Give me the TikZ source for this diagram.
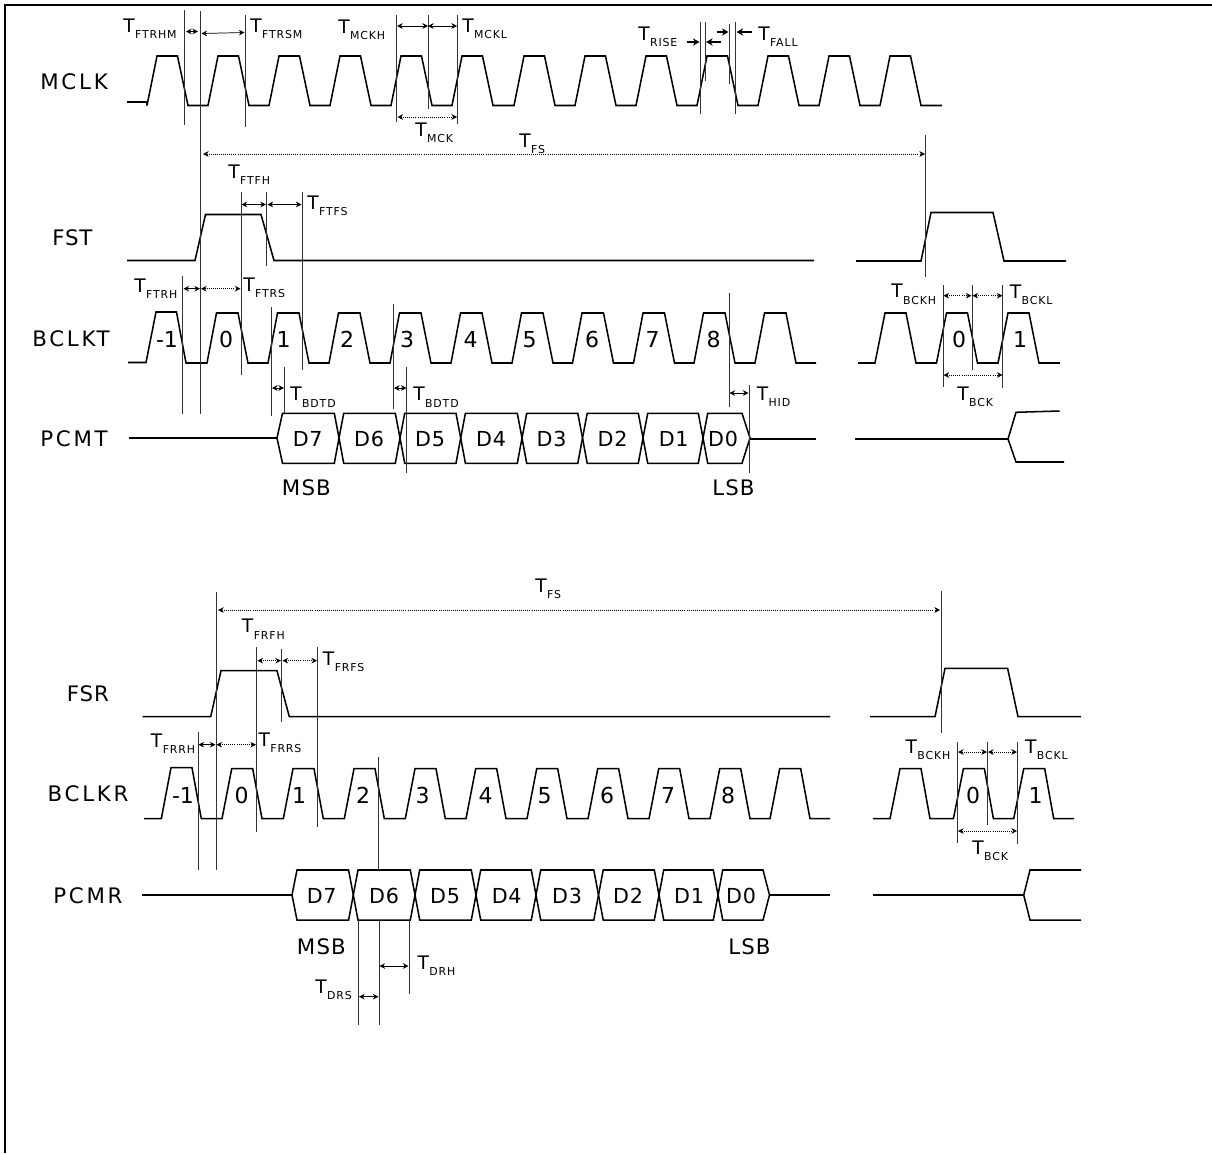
\documentclass[tikz,border=0pt]{standalone}
\usepackage{fontspec}
\usetikzlibrary{arrows.meta}
\newfontfamily\lbf[LetterSpace=13]{DejaVu Sans}
\newfontfamily\lbn[LetterSpace=4]{DejaVu Sans}
\newfontfamily\dgf{DejaVu Sans}
\newfontfamily\tbf{DejaVu Sans}
\newfontfamily\sbf[LetterSpace=8]{DejaVu Sans}
\newcommand\tsub[1]{{\tbf\fontsize{14}{14}\selectfont T}\kern0.3pt\raisebox{-4.8pt}{\sbf\fontsize{8.2}{9}\selectfont #1}}
\tikzset{
  wave/.style={line width=1.15pt,line join=miter},
  guide/.style={line width=0.75pt,black!80},
  dimen/.style={line width=0.55pt,{Stealth[length=4.2pt,width=4.2pt]}-{Stealth[length=4.2pt,width=4.2pt]}},
  dimendot/.style={dimen,densely dotted},
  oneway/.style={line width=1pt,-{Stealth[length=5pt,width=5.5pt]}},
  siglabel/.style={anchor=base west,inner sep=0pt,font=\lbf\fontsize{16}{17}\selectfont},
  narrowlabel/.style={anchor=base west,inner sep=0pt,font=\lbn\fontsize{16}{17}\selectfont},
  buslabel/.style={anchor=base,inner sep=0pt,font=\lbn\fontsize{15.5}{16}\selectfont},
  digit/.style={anchor=base,inner sep=0pt,font=\dgf\fontsize{16.5}{17}\selectfont},
  tlabel/.style={anchor=base west,inner sep=0pt},
}
% one hexagon of a data bus: left tip, right tip, left/right tip depths, mid, top, bottom
\newcommand\hexcell[7]{\draw[wave] (#1,#5) -- (#1+#3,#6) -- (#2-#4,#6) -- (#2,#5) -- (#2-#4,#7) -- (#1+#3,#7) -- cycle;}
\begin{document}
\begin{tikzpicture}[x=0.75pt,y=-0.75pt]
\useasboundingbox (0,0) rectangle (1212,1153);
% frame
\draw[line width=1.5pt] (5,1153) -- (5,5) -- (1212,5);

% ---------- transmit: waveforms
\draw[wave] (127,102) -- (147,102) -- (147,105.5) foreach \s in {147,208,269,330,391,452,514,575,636,697,758,819,880} { -- (\s,105.5) -- (\s+10,56) -- (\s+30.5,56) -- (\s+41,105.5) } -- (942,105.5);
\draw[wave] (127,260.5) -- (195,260.5) -- (205.5,214.5) -- (261,214.5) -- (274,260.5) -- (814,260.5);
\draw[wave] (856,261) -- (921,261) -- (931,212.5) -- (993,212.5) -- (1004,261) -- (1066,261);
\draw[wave] (128,362.5) -- (146,362.5) -- (156,312) -- (176.5,312) -- (186,363) foreach \s in {207,268,329,390,451,512,572.5,633.5,694,755} { -- (\s,363) -- (\s+9.5,313) -- (\s+31,313) -- (\s+41,363) } -- (816,363);
\draw[wave] (858,363) foreach \s in {875,936.5,998} { -- (\s,363) -- (\s+10,313) -- (\s+31,313) -- (\s+41,363) } -- (1060,363);
\draw[wave] (128.5,438) -- (277,438);
\foreach \a/\b/\l/\r in {277/339/5.5/4.7,339/400/4.7/4.7,400/460.7/4.7/4.7,460.7/522/4.7/4.7,522/582.5/4.7/4.7,582.5/643/4.7/4.7,643/703/4.7/4.7,703/750/4.7/8}
  {\hexcell{\a}{\b}{\l}{\r}{438}{413.3}{463.3}}
\draw[wave] (750,439) -- (816,439);
\draw[wave] (1059.5,411) -- (1016,412.3) -- (1008,439) -- (1016,462) -- (1064,462);
\draw[wave] (855,439) -- (1008,439);

% ---------- transmit: guides
\foreach \x/\a/\b in {184/10/125,200.5/11/414,245/15/127,396.5/15/122,428/15/109,457.5/15/124,
  700/22/114,705/22/81,729/24/84,735.7/22/114,925.5/135/277,
  241/192/375,266.7/192/266,302/192/370,182.7/276/414,271.7/307/416,284.3/367/413,
  393.7/304/409,406.7/367/472.7,729/293/406.7,749/385/472.7,943/285/387,972/285/370,1002.7/285/388}
  {\draw[guide] (\x,\a) -- (\x,\b);}
\draw[dimen] (186,31.5) -- (198,31.5);
\draw[dimen] (201.5,33.5) -- (244.5,32.5);
\draw[dimen] (397,26) -- (428,26);
\draw[dimen] (428,26) -- (457,26);
\draw[dimendot] (397.5,117) -- (457,117);
\draw[dimendot] (203,154) -- (925,154);
\draw[dimen] (241.5,204.5) -- (266,204.5);
\draw[dimen] (267.5,204.5) -- (301.5,204.5);
\draw[dimen] (183.5,288.7) -- (200,288.7);
\draw[dimendot] (201,288.7) -- (240.5,288.7);
\draw[dimen] (272,388) -- (284,388);
\draw[dimen] (394,388) -- (406.5,388);
\draw[dimen] (729.5,393) -- (748.5,393);
\draw[dimendot] (943.5,295.7) -- (971.5,295.7);
\draw[dimendot] (972.5,295.7) -- (1002.5,295.7);
\draw[dimendot] (943.5,375) -- (1002.5,375);
\draw[oneway] (686.7,42) -- (699.5,42);
\draw[oneway] (720.7,42) -- (706,42);
\draw[oneway] (717,32) -- (728.5,32);
\draw[oneway] (751.7,32) -- (736.5,32);

% ---------- transmit: text
\node[siglabel] (lmclk) at (40,89) {MCLK};
\node[narrowlabel] (lfst) at (52,245.6) {FST};
\node[siglabel] (lbclkt) at (32,346) {BCLKT};
\node[siglabel] (lpcmt) at (40,446.7) {PCMT};
\node[narrowlabel] (lmsbt) at (281.7,495) {M\kern1pt SB};
\node[narrowlabel] (llsbt) at (712,495) {L\kern1pt SB};
\foreach \x/\t/\n in {167/-1/a,226/0/b,283.5/1/c,347/2/d,407/3/e,470.5/4/f,529.5/5/g,592/6/h,652.5/7/i,713.5/8/j,959/0/k,1020/1/l}
  {\node[digit] (dt\n) at (\x,347.5) {\t};}
\foreach \x/\t in {307.7/D7,369/D6,430/D5,491/D4,551.5/D3,612.6/D2,673.7/D1,723/D0}
  {\node[buslabel] (bt\t) at (\x,446.5) {\t};}
\node[tlabel] (t1) at (123,32) {\tsub{FTRHM}};
\node[tlabel] (t2) at (250,32) {\tsub{FTRSM}};
\node[tlabel] (t3) at (338,33) {\tsub{MCKH}};
\node[tlabel] (t4) at (462,32) {\tsub{MCKL}};
\node[tlabel] (t5) at (415,136) {\tsub{MCK}};
\node[tlabel] (t6) at (228,178) {\tsub{FTFH}};
\node[tlabel] (t7) at (307,209) {\tsub{FTFS}};
\node[tlabel] (t8) at (134,292) {\tsub{FTRH}};
\node[tlabel] (t9) at (243,291) {\tsub{FTRS}};
\node[tlabel] (t10) at (290,400.7) {\tsub{BDTD}};
\node[tlabel] (t11) at (413,400.7) {\tsub{BDTD}};
\node[tlabel] (t12) at (756.5,400) {\tsub{HID}};
\node[tlabel] (t13) at (891,297.7) {\tsub{BCKH}};
\node[tlabel] (t14) at (1009.5,298) {\tsub{BCKL}};
\node[tlabel] (t15) at (957,400) {\tsub{BCK}};
\node[tlabel] (t16) at (638,40) {\tsub{RISE}};
\node[tlabel] (t17) at (758,40) {\tsub{FALL}};
\node[tlabel] (t18) at (519,147) {\tsub{FS}};

% ---------- receive: waveforms
\draw[wave] (142.7,716.7) -- (210.7,716.7) -- (221,670.7) -- (277,670.7) -- (289.3,716.7) -- (830,716.7);
\draw[wave] (870,716.7) -- (935,716.7) -- (945,668.3) -- (1007.6,668.3) -- (1018,716.7) -- (1081,716.7);
\draw[wave] (144,818.7) -- (161.3,818.7) -- (171,767.7) -- (192,767.7) -- (201.3,818.7) foreach \s in {222,283.3,344.3,405.3,466,527,588,649,710,770} { -- (\s,818.7) -- (\s+9.7,768.7) -- (\s+30.7,768.7) -- (\s+40,818.7) } -- (830,818.7);
\draw[wave] (873,818.7) foreach \s in {890,953.4,1013.7} { -- (\s,818.7) -- (\s+10,768.7) -- (\s+31,768.7) -- (\s+40,818.7) } -- (1074,818.7);
\draw[wave] (142,895) -- (292,895);
\foreach \a/\b/\l/\r in {292/353.3/5/4.7,353.3/415/4.7/4.7,415/476/4.7/4.7,476/536/4.7/4.7,536/598.5/4.7/4.7,598.5/659/4.7/4.7,659/718/4.7/4.7,718/769.5/4.7/6.5}
  {\hexcell{\a}{\b}{\l}{\r}{895}{870}{920}}
\draw[wave] (769.5,895) -- (830,895);
\draw[wave] (873,895) -- (1023.7,895);
\draw[wave] (1081,870) -- (1030,870) -- (1023.7,895) -- (1030,920) -- (1081,920);

% ---------- receive: guides
\foreach \x/\a/\b in {216/592/870,941/591/733,256.7/647/831.7,281.7/649/721.7,317.3/647/826.7,198/731.7/870,
  378.7/757.3/870,358.3/920/1025,379/920/1025,409/920/994,957/741.7/843,987.4/741.7/825,1017.6/741.7/844}
  {\draw[guide] (\x,\a) -- (\x,\b);}
\draw[dimendot] (218,610) -- (940,610);
\draw[dimendot] (257.5,660.7) -- (281,660.7);
\draw[dimendot] (282.5,660.7) -- (317,660.7);
\draw[dimen] (198.5,744.7) -- (215.5,744.7);
\draw[dimendot] (216.5,744.7) -- (256,744.7);
\draw[dimendot] (958,752) -- (987,752);
\draw[dimendot] (988,752) -- (1017,752);
\draw[dimendot] (958,831) -- (1017,831);
\draw[dimen] (379.5,966) -- (408.5,966);
\draw[dimen] (359,996.7) -- (378.5,996.7);

% ---------- receive: text
\node[narrowlabel] (lfsr) at (66.7,701.7) {FSR};
\node[siglabel] (lbclkr) at (47.3,801.7) {BCLKR};
\node[siglabel] (lpcmr) at (53,903) {PCMR};
\node[narrowlabel] (lmsbr) at (296.7,954) {M\kern1pt SB};
\node[narrowlabel] (llsbr) at (728,954) {L\kern1pt SB};
\foreach \x/\t/\n in {183/-1/a,241.7/0/b,299/1/c,363/2/d,422.7/3/e,485.7/4/f,544.7/5/g,607/6/h,668/7/i,728/8/j,973/0/k,1035.5/1/l}
  {\node[digit] (dr\n) at (\x,803) {\t};}
\foreach \x/\t in {321.7/D7,384/D6,445/D5,506.7/D4,567/D3,628/D2,689/D1,741/D0}
  {\node[buslabel] (br\t) at (\x,903) {\t};}
\node[tlabel] (r1) at (535,592) {\tsub{FS}};
\node[tlabel] (r2) at (241.7,632.7) {\tsub{FRFH}};
\node[tlabel] (r3) at (322.7,665) {\tsub{FRFS}};
\node[tlabel] (r4) at (150.7,747.3) {\tsub{FRRH}};
\node[tlabel] (r5) at (258.3,746) {\tsub{FRRS}};
\node[tlabel] (r6) at (905.3,753.3) {\tsub{BCKH}};
\node[tlabel] (r7) at (1024.8,753) {\tsub{BCKL}};
\node[tlabel] (r8) at (972,854) {\tsub{BCK}};
\node[tlabel] (r9) at (417.3,969.3) {\tsub{DRH}};
\node[tlabel] (r10) at (315,993) {\tsub{DRS}};
\end{tikzpicture}
\end{document}
